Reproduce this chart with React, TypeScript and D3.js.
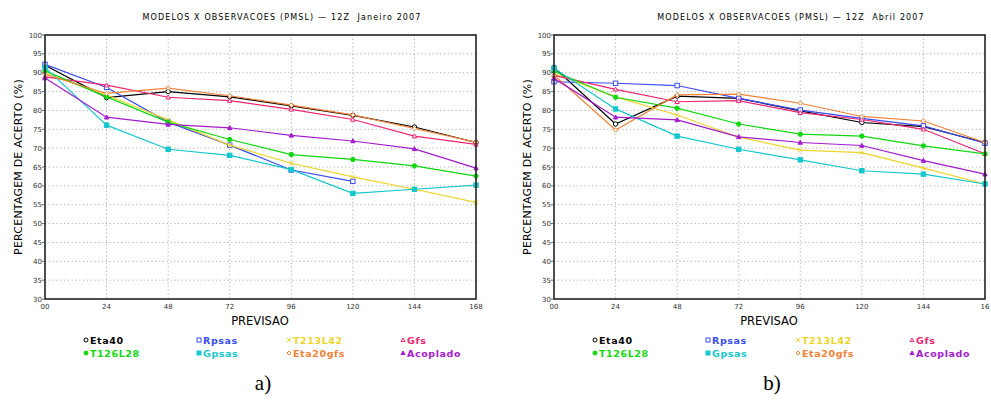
import React from 'react';
import * as d3 from 'd3';

// forecast hours
const hours = [0, 24, 48, 72, 96, 120, 144, 168];
const yTicks = [30, 35, 40, 45, 50, 55, 60, 65, 70, 75, 80, 85, 90, 95, 100];

const seriesNames = ['Eta40', 'Rpsas', 'T213L42', 'Gfs', 'T126L28', 'Gpsas', 'Eta20gfs', 'Acoplado'];
const seriesColors = ['#000000', '#3a4cf2', '#ecd52a', '#ee2472', '#12d812', '#14c8cc', '#f28234', '#a41ccc'];
const seriesMarks = ['circle', 'square', 'x', 'triangle', 'circleFilled', 'squareFilled', 'diamond', 'triangleFilled'];

// Janeiro 2007
const janEta40 = [92.0, 83.4, 85.0, 83.6, 81.2, 78.7, 75.6, 71.5];
const janRpsas = [92.2, 86.1, 76.9, 70.8, 64.2, 61.2];
const janT213L42 = [89.9, 84.1, 77.5, 70.8, 66.0, 62.4, 59.1, 55.6];
const janGfs = [88.9, 86.7, 83.5, 82.6, 80.3, 77.6, 73.2, 71.0];
const janT126L28 = [90.5, 83.6, 76.9, 72.3, 68.3, 67.0, 65.3, 62.6];
const janGpsas = [91.4, 76.1, 69.7, 68.1, 64.3, 58.0, 59.1, 60.2];
const janEta20gfs = [89.6, 84.5, 85.9, 83.9, 81.4, 78.8, 75.2, 71.6];
const janAcoplado = [88.6, 78.2, 76.3, 75.4, 73.4, 71.9, 69.8, 64.7];

// Abril 2007
const abrEta40 = [91.4, 76.4, 83.8, 83.2, 79.9, 76.8, 75.7, 71.5];
const abrRpsas = [87.6, 87.2, 86.6, 83.2, 80.1, 77.9, 75.9, 71.3];
const abrT213L42 = [89.8, 83.6, 78.8, 72.9, 69.5, 68.8, 64.7, 60.5];
const abrGfs = [89.3, 85.6, 82.3, 82.6, 79.4, 77.6, 75.0, 68.5];
const abrT126L28 = [90.4, 83.5, 80.6, 76.4, 73.7, 73.2, 70.6, 68.5];
const abrGpsas = [91.2, 80.4, 73.2, 69.7, 66.9, 64.0, 63.1, 60.5];
const abrEta20gfs = [89.4, 74.8, 84.1, 84.3, 81.9, 78.4, 77.2, 71.5];
const abrAcoplado = [88.5, 78.2, 77.5, 73.0, 71.5, 70.7, 66.7, 63.1];

const janSeries = [janEta40, janRpsas, janT213L42, janGfs, janT126L28, janGpsas, janEta20gfs, janAcoplado];
const abrSeries = [abrEta40, abrRpsas, abrT213L42, abrGfs, abrT126L28, abrGpsas, abrEta20gfs, abrAcoplado];

const font = '"DejaVu Sans", sans-serif';

function Marker({ kind, x, y, color, r = 2.6 }) {
  const fill = kind.endsWith('Filled') ? color : 'none';
  if (kind.startsWith('circle')) return <circle cx={x} cy={y} r={r} fill={fill === 'none' ? '#fff' : fill} stroke={color} strokeWidth={1} />;
  if (kind.startsWith('square'))
    return <rect x={x - r} y={y - r} width={2 * r} height={2 * r} fill={fill === 'none' ? '#fff' : fill} stroke={color} strokeWidth={1} />;
  if (kind.startsWith('triangle'))
    return <path d={`M${x},${y - r}L${x + r},${y + r * 0.8}L${x - r},${y + r * 0.8}Z`} fill={fill === 'none' ? '#fff' : fill} stroke={color} strokeWidth={1} />;
  if (kind === 'diamond')
    return <path d={`M${x},${y - r}L${x + r},${y}L${x},${y + r}L${x - r},${y}Z`} fill="#fff" stroke={color} strokeWidth={1} />;
  return <path d={`M${x - r},${y - r}L${x + r},${y + r}M${x + r},${y - r}L${x - r},${y + r}`} stroke={color} strokeWidth={1} />;
}

function Panel({ ox, title, series, caption, lastLabel }) {
  const x0 = ox + 45;
  const x1 = ox + 476;
  const xScale = d3.scaleLinear().domain([0, 168]).range([x0, x1]);
  const yScale = d3.scaleLinear().domain([30, 100]).range([299, 35]);
  const line = d3
    .line<number>()
    .x((d, i) => xScale(hours[i]))
    .y(d => yScale(d));

  const legendCols = [ox + 86, ox + 199, ox + 289, ox + 403];
  return (
    <g>
      <text
        x={ox + 282}
        y={20}
        textAnchor="middle"
        fontFamily={font}
        fontSize={8}
        letterSpacing={1.15}
        style={{ whiteSpace: 'pre' }}
      >
        {title}
      </text>
      {/* grid */}
      {yTicks.slice(1, -1).map(t => (
        <line key={'gy' + t} x1={x0} x2={x1} y1={yScale(t)} y2={yScale(t)} stroke="#9a9a9a" strokeWidth={0.8} strokeDasharray="1.2,2.6" />
      ))}
      {hours.slice(1, -1).map(h => (
        <line key={'gx' + h} x1={xScale(h)} x2={xScale(h)} y1={35} y2={299} stroke="#9a9a9a" strokeWidth={0.8} strokeDasharray="1.2,2.6" />
      ))}
      {/* series */}
      {series.map((vals, si) => (
        <g key={si}>
          <path d={line(vals) || ''} fill="none" stroke={seriesColors[si]} strokeWidth={1.2} />
          {vals.map((v, i) => (
            <Marker key={i} kind={seriesMarks[si]} x={xScale(hours[i])} y={yScale(v)} color={seriesColors[si]} r={2.2} />
          ))}
        </g>
      ))}
      <rect x={x0} y={35} width={x1 - x0} height={264} fill="none" stroke="#222" strokeWidth={1.6} />
      {/* y ticks */}
      {yTicks.map(t => (
        <g key={'yt' + t}>
          <line x1={x0 - 3} x2={x0} y1={yScale(t)} y2={yScale(t)} stroke="#444" strokeWidth={0.8} />
          <text x={x0 - 3} y={yScale(t) + 2.5} textAnchor="end" fontFamily={font} fontSize={7} fill="#333">
            {t}
          </text>
        </g>
      ))}
      {hours.map((h, i) => (
        <text key={'xt' + h} x={xScale(h)} y={309} textAnchor="middle" fontFamily={font} fontSize={7} fill="#333">
          {i === hours.length - 1 ? lastLabel : h === 0 ? '00' : String(h)}
        </text>
      ))}
      <text
        transform={`translate(${ox + 22},${167}) rotate(-90)`}
        textAnchor="middle"
        fontFamily={font}
        fontSize={11}
        letterSpacing={0.2}
      >
        PERCENTAGEM DE ACERTO (%)
      </text>
      <text x={ox + 260} y={325} textAnchor="middle" fontFamily={font} fontSize={11.5}>
        PREVISAO
      </text>
      {seriesNames.map((n, i) => {
        const cx = legendCols[i % 4];
        const cy = i < 4 ? 340 : 353;
        return (
          <g key={n}>
            <Marker kind={seriesMarks[i]} x={cx} y={cy} color={seriesColors[i]} r={2} />
            <text x={cx + 4} y={cy + 3.5} fontFamily={font} fontSize={9.5} fontWeight="bold" letterSpacing={0.6} fill={seriesColors[i]}>
              {n}
            </text>
          </g>
        );
      })}
      <text x={ox + 263} y={390} textAnchor="middle" fontFamily='"Liberation Serif", serif' fontSize={21}>
        {caption}
      </text>
    </g>
  );
}

export default function App() {
  return (
    <svg width={991} height={403} style={{ position: 'absolute', left: 0, top: 0, background: '#fff' }}>
      <rect width={991} height={403} fill="#fff" />
      <Panel ox={0} title="MODELOS X OBSERVACOES (PMSL) — 12Z  Janeiro 2007" series={janSeries} caption="a)" lastLabel="168" />
      <Panel ox={509} title="MODELOS X OBSERVACOES (PMSL) — 12Z  Abril 2007" series={abrSeries} caption="b)" lastLabel="16" />
    </svg>
  );
}
